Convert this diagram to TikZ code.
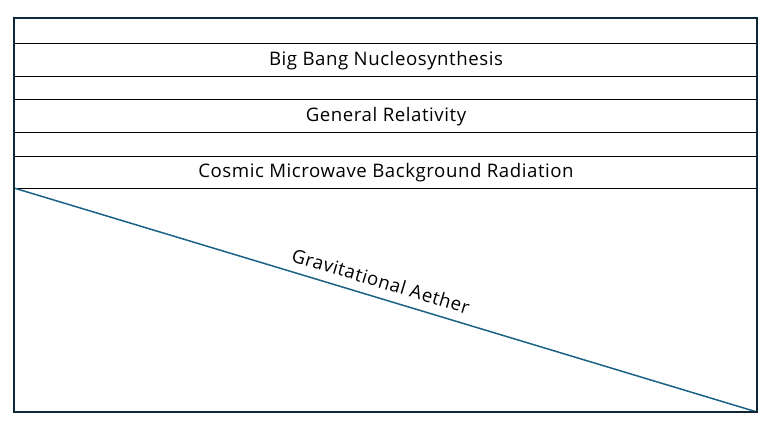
\documentclass[tikz,border=0pt]{standalone}
\usepackage{fontspec}
\setmainfont{Open Sans}[LetterSpace=3]
\definecolor{frame}{HTML}{0E2838}
\definecolor{diag}{HTML}{1C6285}
\begin{document}
\begin{tikzpicture}[x=1bp,y=-1bp,
  rowline/.style={draw=black,line width=0.9bp},
  rowtext/.style={font=\fontsize{18.7}{22}\selectfont,inner sep=0pt},
  frameline/.style={draw=frame,line width=2bp}]
\useasboundingbox (0,0) rectangle (778,422);
\coordinate (topleft) at (14,18);
\coordinate (botright) at (757,412);
\foreach \y/\n in {43/a,76/b,99/c,132/d,156/e,188/f}{
  \coordinate (row\n L) at (14,\y);
  \coordinate (row\n R) at (757,\y);
  \draw[rowline] (row\n L) -- (row\n R);
}
\node[rowtext] (t1) at (386,60.5) {Big Bang Nucleosynthesis};
\node[rowtext] (t2) at (386,116.5) {General Relativity};
\node[rowtext] (t3) at (386,173) {Cosmic Microwave Background Radiation};
\draw[draw=diag,line width=1.5bp] (rowfL) -- (botright);
\node[rowtext,rotate=-16.77] (ga) at (381,281) {Gravitational Aether};
\draw[frameline] (topleft) rectangle (botright);
\end{tikzpicture}
\end{document}
